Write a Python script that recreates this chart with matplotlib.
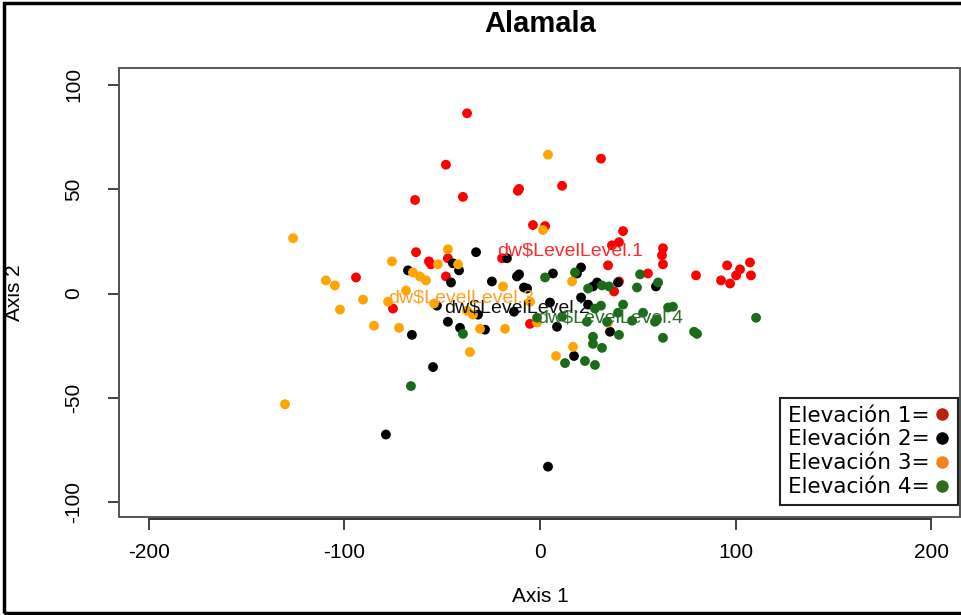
import matplotlib
matplotlib.use("Agg")
import matplotlib.pyplot as plt
from matplotlib.lines import Line2D
from matplotlib.patches import Rectangle

# Ordination scores (Axis 1, Axis 2) for each elevation level
level1_x = [-37.3, -48.1, -63.9, -39.4, -10.7, -11.3, 31.2, 11.3, -3.6, 2.6,
            42.5, 36.8, 40.4, 62.9, 62.4, 62.9, 34.8, 55.2, 79.8, 40.4,
            37.9, 95.7, 107.4, 102.3, 100.3, 107.9, 92.6, 97.2, -63.4, -56.8,
            -55.8, -47.1, -19.4, -94.1, -48.1, -75.2, -5.1]
level1_y = [86.3, 61.7, 44.8, 46.3, 50.1, 49.2, 64.6, 51.6, 32.8, 32.3,
            29.9, 23.1, 24.6, 21.7, 18.3, 14.0, 13.5, 9.6, 8.7, 5.8,
            1.0, 13.5, 14.9, 11.6, 8.7, 8.7, 6.3, 4.8, 19.8, 15.4,
            14.0, 16.9, 16.9, 7.7, 8.2, -7.2, -14.5]

level2_x = [-32.7, -16.9, -44.5, -41.4, -67.5, -45.5, -24.6, -11.8, -10.7, -8.2,
            -6.6, 6.6, 21.0, 18.9, 29.2, 27.1, 39.9, 59.3, 5.1, 21.0,
            24.6, -47.1, -40.9, -28.1, -31.7, 8.7, 35.8, 17.4, -54.7, -65.5,
            -78.8, 4.1, -52.7, -13.3]
level2_y = [19.8, 16.9, 14.5, 11.1, 11.1, 5.3, 5.8, 8.2, 9.2, 2.9,
            2.4, 9.6, 12.5, 9.6, 5.3, 3.4, 5.3, 3.4, -4.3, -1.9,
            -5.3, -13.5, -16.4, -17.3, -10.1, -15.9, -18.3, -29.9, -35.2, -19.8,
            -67.5, -82.9, -5.8, -8.7]

level3_x = [4.1, 1.5, -126.3, -47.1, -75.7, -52.2, -41.9, -65.0, -61.4, -58.3,
            -109.5, -104.9, -68.5, -18.9, 16.4, -90.5, -77.7, -102.3, -84.9, -72.1,
            -35.8, -130.4, -17.9, -30.7, -54.2, -37.3, -34.3, -5.1, 16.9, 8.2,
            34.8, -1.5]
level3_y = [66.5, 30.4, 26.5, 21.2, 15.4, 14.0, 14.0, 10.1, 8.2, 6.3,
            6.3, 3.9, 1.4, 3.4, 5.8, -2.9, -3.9, -7.7, -15.4, -16.4,
            -28.0, -53.0, -16.9, -16.9, -4.8, -8.2, -10.1, -3.9, -25.5, -29.9,
            -14.0, -13.9]

level4_x = [2.6, 17.9, 51.2, 60.4, 49.6, 24.6, 31.7, 35.3, 42.5, 31.2,
            52.7, 65.5, 68.0, 58.8, 59.8, 47.1, 39.9, 34.3, 24.0, 11.3,
            78.8, 80.3, 110.5, 62.9, 40.4, 27.1, 27.1, 31.7, 12.8, 23.0,
            28.1, -39.4, -66.0, -1.5, 28.1]
level4_y = [7.7, 10.1, 9.2, 5.3, 2.9, 2.4, 3.9, 3.4, -5.3, -5.8,
            -9.2, -6.7, -6.3, -13.5, -12.5, -13.0, -9.2, -13.5, -13.5, -11.1,
            -18.3, -19.3, -11.6, -21.2, -19.8, -20.7, -24.1, -26.0, -33.3, -32.3,
            -34.2, -19.3, -44.3, -11.6, -7.2]

# Group label positions and texts
label_texts = ["dw$LevelLevel.1", "dw$LevelLevel.2", "dw$LevelLevel.3", "dw$LevelLevel.4"]
label_x = [15.3, -11.8, -40.4, 35.8]
label_y = [20.2, -6.7, -2.1, -11.6]

legend_labels = ["Elevación 1=", "Elevación 2=", "Elevación 3=", "Elevación 4="]

point_colors = ["#ff0000", "#000000", "#ffa500", "#1b6b1b"]
text_colors = ["#ff2a2a", "#111111", "#ffa020", "#2a6e2a"]
legend_colors = ["#b8200f", "#000000", "#f7821b", "#306a1f"]

W, H = 961, 615
fig = plt.figure(figsize=(W / 100, H / 100), dpi=100)
fig.patch.set_facecolor("white")

ax = fig.add_axes([119 / W, 1 - 517 / H, (960 - 119) / W, (517 - 68) / H])
ax.set_xlim(-215.3, 214.8)
ax.set_ylim(-107.0, 108.0)

groups = [(level1_x, level1_y), (level2_x, level2_y),
          (level3_x, level3_y), (level4_x, level4_y)]
for (gx, gy), c in zip(groups, point_colors):
    ax.scatter(gx, gy, s=50, c=c, edgecolors="none", zorder=3)

for t, lx, ly, c in zip(label_texts, label_x, label_y, text_colors):
    ax.text(lx, ly, t, color=c, fontsize=14, family="Liberation Sans",
            ha="center", va="center", zorder=4)

# Plot frame and R-style axes
for s in ["top", "right"]:
    ax.spines[s].set_visible(False)
ax.add_patch(Rectangle((0, 0), 1, 1, transform=ax.transAxes, fill=False,
                       edgecolor="#555555", linewidth=1.4, zorder=5, clip_on=False))
ax.spines["bottom"].set_bounds(-200, 200)
ax.spines["bottom"].set_position(("outward", 1.5))
ax.spines["left"].set_bounds(-100, 100)
for s in ["bottom", "left"]:
    ax.spines[s].set_color("#333333")
    ax.spines[s].set_linewidth(1.4)

ax.set_xticks([-200, -100, 0, 100, 200])
ax.set_yticks([-100, -50, 0, 50, 100])
ax.set_xticklabels(["-200", "-100", "0", "100", "200"])
ax.set_yticklabels(["-100", "-50", "0", "50", "100"], rotation=90, va="center")
ax.tick_params(axis="both", direction="out", length=8, width=1.3, color="#333333",
               labelsize=15)
ax.tick_params(axis="x", pad=9)
ax.tick_params(axis="y", pad=18)
for lab in ax.get_xticklabels() + ax.get_yticklabels():
    lab.set_family("Liberation Sans")

fig.text(540 / W, 1 - 596 / H, "Axis 1", ha="center", va="center",
         fontsize=15, family="Liberation Sans")
fig.text(15 / W, 1 - 293 / H, "Axis 2", ha="center", va="center",
         fontsize=15, family="Liberation Sans", rotation=90)
fig.text(540 / W, 1 - 24 / H, "Alamala", ha="center", va="center",
         fontsize=21, fontweight="bold", family="Liberation Sans")

handles = [Line2D([], [], linestyle="none", marker="o", markersize=9,
                  markerfacecolor=c, markeredgecolor="none") for c in legend_colors]
leg = ax.legend(handles, legend_labels, loc="upper left",
                bbox_to_anchor=(780 / W, 1 - 398 / H), bbox_transform=fig.transFigure,
                markerfirst=False, frameon=True, fancybox=False, framealpha=1,
                prop={"family": "DejaVu Sans", "size": 15.5}, handlelength=0.8,
                handletextpad=0.2, labelspacing=0.18, borderpad=0.35,
                borderaxespad=0)
leg.get_frame().set_edgecolor("#222222")
leg.get_frame().set_linewidth(1.5)
leg.set_zorder(6)

# Outer border of the figure
fig.patches.append(Rectangle((4 / W, 2 / H), (W + 10) / W, (H - 5) / H,
                             transform=fig.transFigure, fill=False,
                             edgecolor="black", linewidth=2.5))

fig.savefig("out.png", dpi=100)
